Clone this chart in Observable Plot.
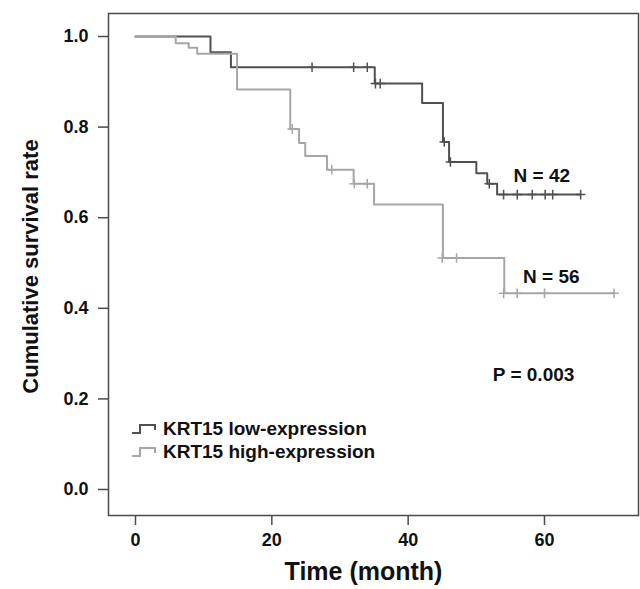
<!DOCTYPE html>
<html>
<head>
<meta charset="utf-8">
<script src="https://cdn.jsdelivr.net/npm/d3@7"></script>
<script src="https://cdn.jsdelivr.net/npm/@observablehq/plot@0.6"></script>
<style>
  html, body { margin: 0; padding: 0; background: #fff; }
  #wrap { position: relative; width: 640px; height: 589px; font-family: "Liberation Sans", Arial, sans-serif; }
  #legend { position: absolute; left: 131px; top: 417px; font-weight: bold; font-size: 19px; color: #111; }
  #legend .row { display: flex; align-items: center; height: 23px; }
  #legend svg { margin-right: 6px; }
</style>
</head>
<body>
<div id="wrap"></div>
<script>
// Survival curves (Kaplan-Meier step points)
const lowTime = [0, 11.0, 14.0, 35.1, 42.05, 45.1, 46.0, 50.0, 51.6, 53.05, 65.3];
const lowSurv = [1.0, 0.965, 0.932, 0.896, 0.853, 0.767, 0.723, 0.698, 0.675, 0.651, 0.651];
const lowCensorTime = [25.9, 32.0, 34.0, 35.2, 35.9, 45.3, 46.2, 51.9, 54.0, 56.0, 58.2, 60.1, 61.2, 65.3];
const lowCensorSurv = [0.932, 0.932, 0.932, 0.896, 0.896, 0.767, 0.723, 0.675, 0.651, 0.651, 0.651, 0.651, 0.651, 0.651];

const highTime = [0, 5.9, 7.8, 9.05, 14.9, 22.7, 24.0, 24.9, 28.1, 32.0, 35.0, 45.1, 54.1, 70.2];
const highSurv = [1.0, 0.985, 0.975, 0.962, 0.883, 0.796, 0.765, 0.736, 0.706, 0.675, 0.629, 0.511, 0.433, 0.433];
const highCensorTime = [23.0, 28.8, 32.1, 34.0, 45.0, 47.1, 54.0, 56.0, 60.0, 70.2];
const highCensorSurv = [0.796, 0.706, 0.675, 0.675, 0.511, 0.511, 0.433, 0.433, 0.433, 0.433];

const seriesNames = ["KRT15 low-expression", "KRT15 high-expression"];
const seriesColors = ["#505050", "#a6a6a6"];

const xTicks = [0, 20, 40, 60];
const yTicks = [0, 0.2, 0.4, 0.6, 0.8, 1.0];

const noteText = ["N = 42", "N = 56", "P = 0.003"];
const noteTime = [59.6, 61.0, 58.4];
const noteSurv = [0.692, 0.470, 0.254];

const toRows = (ts, vs, s) => ts.map((t, i) => ({t, v: vs[i], s}));
const curveRows = [...toRows(lowTime, lowSurv, seriesNames[0]), ...toRows(highTime, highSurv, seriesNames[1])];
const censorRows = [...toRows(lowCensorTime, lowCensorSurv, seriesNames[0]), ...toRows(highCensorTime, highCensorSurv, seriesNames[1])];
const notes = noteText.map((text, i) => ({text, t: noteTime[i], v: noteSurv[i]}));

const frameColor = "#4a4a4a";

const chart = Plot.plot({
  width: 640,
  height: 589,
  marginLeft: 108,
  marginRight: 2,
  marginTop: 13,
  marginBottom: 74,
  style: {fontFamily: "'Liberation Sans', Arial, sans-serif", fontSize: "18px", fontWeight: "bold", color: "#111", background: "#fff"},
  x: {domain: [-3.96, 73.79]},
  y: {domain: [-0.0574, 1.0508]},
  color: {domain: seriesNames, range: seriesColors},
  marks: [
    Plot.frame({stroke: frameColor, strokeWidth: 1.5}),
    Plot.axisX({ticks: xTicks, tickSize: 10, tickPadding: 8, stroke: frameColor, strokeWidth: 1.5, label: null, fill: "#111"}),
    Plot.axisY({ticks: yTicks, tickFormat: d3.format(".1f"), tickSize: 10, tickPadding: 10, stroke: frameColor, strokeWidth: 1.5, label: null, fill: "#111"}),
    Plot.line(curveRows, {x: "t", y: "v", z: "s", stroke: "s", curve: "step-after", strokeWidth: 2}),
    Plot.dot(censorRows, {x: "t", y: "v", stroke: "s", symbol: "plus", r: 3.2, strokeWidth: 1.5}),
    Plot.text(notes, {x: "t", y: "v", text: "text", fontSize: 19, fontWeight: "bold", fill: "#111"}),
    Plot.text(["Time (month)"], {frameAnchor: "bottom", textAnchor: "middle", dx: -10, dy: 64, fontSize: 25, fontWeight: "bold", fill: "#111"}),
    Plot.text(["Cumulative survival rate"], {frameAnchor: "left", textAnchor: "middle", dx: -78, dy: 2, rotate: -90, fontSize: 22, fontWeight: "bold", fill: "#111"})
  ]
});

const wrap = document.getElementById("wrap");
wrap.appendChild(chart);

const legend = document.createElement("div");
legend.id = "legend";
seriesNames.forEach((name, i) => {
  const row = document.createElement("div");
  row.className = "row";
  row.innerHTML = `<svg width="26" height="12"><path d="M1,10 H9 V2 H24 V7" fill="none" stroke="${seriesColors[i]}" stroke-width="2"/></svg><span>${name}</span>`;
  legend.appendChild(row);
});
wrap.appendChild(legend);
</script>
</body>
</html>
